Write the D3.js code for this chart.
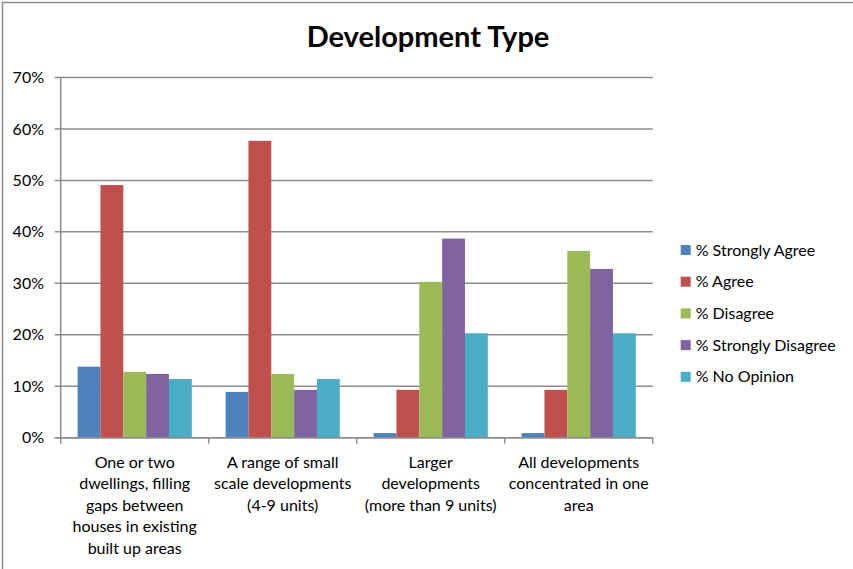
<!DOCTYPE html>
<html><head><meta charset="utf-8">
<script src="https://cdn.jsdelivr.net/npm/d3@7"></script>
<style>
html,body{margin:0;padding:0;background:#fff;}
svg{display:block;font-family:Lato, "Open Sans", sans-serif;}
</style></head>
<body>
<svg id="chart" width="853" height="569"></svg>
<script>
const categories = [
  ["One or two","dwellings, filling","gaps between","houses in existing","built up areas"],
  ["A range of small","scale developments","(4-9 units)"],
  ["Larger","developments","(more than 9 units)"],
  ["All developments","concentrated in one","area"]
];
const seriesNames = ["% Strongly Agree","% Agree","% Disagree","% Strongly Disagree","% No Opinion"];
const stronglyAgree = [13.8, 8.9, 0.9, 0.9];
const agree = [49.1, 57.7, 9.3, 9.3];
const disagree = [12.8, 12.4, 30.3, 36.3];
const stronglyDisagree = [12.4, 9.3, 38.7, 32.8];
const noOpinion = [11.4, 11.4, 20.3, 20.3];
const yTicks = [0,10,20,30,40,50,60,70];
const colors = ["#4F81BD","#C0504D","#9BBB59","#8064A2","#4BACC6"];
const seriesValues = [stronglyAgree, agree, disagree, stronglyDisagree, noOpinion];

(function(){
const svg = d3.select("#chart");
svg.append("path").attr("d","M2.5,569 V2.5 H853").attr("fill","none").attr("stroke","#8c8c8c").attr("stroke-width",1.5);

const pL = 60.7, pR = 652.7, pT = 77.5, pB = 437.7;
const fs = 16;
const x0 = d3.scaleBand().domain(d3.range(categories.length)).range([pL,pR]).paddingInner(0).paddingOuter(0);
const x1 = d3.scaleBand().domain(d3.range(seriesNames.length)).range([0,x0.bandwidth()]).paddingOuter(0.74).paddingInner(0);
const y = d3.scaleLinear().domain([0,70]).range([pB,pT]);

svg.append("g").selectAll("line").data(yTicks).join("line")
  .attr("x1",pL-6).attr("x2",pR).attr("y1",d=>y(d)).attr("y2",d=>y(d))
  .attr("stroke","#8c8c8c").attr("stroke-width",1.5);

svg.append("g").selectAll("text").data(yTicks).join("text")
  .attr("x",44).attr("y",d=>y(d)).attr("dy","0.35em").attr("text-anchor","end")
  .attr("font-size",fs).attr("fill","#000").text(d=>d+"%");

const g = svg.append("g");
categories.forEach((c,i)=>{
  seriesValues.forEach((vals,s)=>{
    g.append("rect")
      .attr("x",x0(i)+x1(s)).attr("width",x1.bandwidth())
      .attr("y",y(vals[i])).attr("height",y(0)-y(vals[i]))
      .attr("fill",colors[s]);
  });
});

svg.append("line").attr("x1",pL).attr("x2",pL).attr("y1",pT).attr("y2",pB+1)
  .attr("stroke","#8c8c8c").attr("stroke-width",1.5);
svg.append("line").attr("x1",pL-6).attr("x2",pR).attr("y1",pB).attr("y2",pB)
  .attr("stroke","#8c8c8c").attr("stroke-width",1.5);
const xt = d3.range(categories.length+1).map(i=> i<categories.length? x0(i): pR);
svg.append("g").selectAll("line").data(xt).join("line")
  .attr("x1",d=>d).attr("x2",d=>d).attr("y1",pB).attr("y2",pB+6)
  .attr("stroke","#8c8c8c").attr("stroke-width",1.5);

categories.forEach((lines,i)=>{
  const t = svg.append("text").attr("text-anchor","middle").attr("font-size",fs).attr("fill","#000");
  lines.forEach((ln,k)=>{
    t.append("tspan").attr("x",x0(i)+x0.bandwidth()/2).attr("y",467.5+k*21.5).text(ln);
  });
});

svg.append("text").attr("x",428).attr("y",47).attr("text-anchor","middle")
  .attr("font-size",29).attr("font-weight","bold").attr("fill","#000").text("Development Type");

const lg = svg.append("g");
seriesNames.forEach((n,s)=>{
  const yy = 250 + s*31.7;
  lg.append("rect").attr("x",680.7).attr("y",yy-5).attr("width",10).attr("height",10).attr("fill",colors[s]);
  lg.append("text").attr("x",695.7).attr("y",yy).attr("dy","0.35em").attr("font-size",fs).attr("fill","#000").text(n);
});
})();
</script>
</body></html>
